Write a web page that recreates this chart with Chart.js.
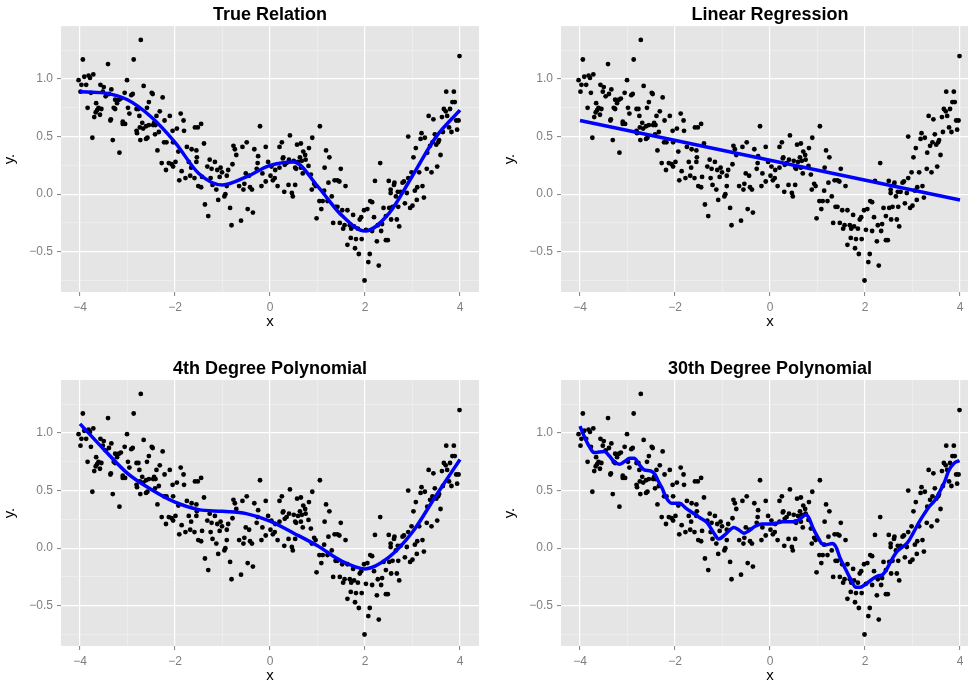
<!DOCTYPE html>
<html>
<head>
<meta charset="utf-8">
<script src="https://cdn.jsdelivr.net/npm/chart.js@4.4.1/dist/chart.umd.min.js"></script>
<style>
  html, body { margin: 0; padding: 0; background: #fff; width: 968px; height: 684px; overflow: hidden; }
  .panel { position: absolute; width: 500px; height: 354px; }
</style>
</head>
<body>
<div class="panel" style="left:0;top:0"><canvas id="p1" width="500" height="354"></canvas></div>
<div class="panel" style="left:500px;top:0"><canvas id="p2" width="500" height="354"></canvas></div>
<div class="panel" style="left:0;top:354px"><canvas id="p3" width="500" height="354"></canvas></div>
<div class="panel" style="left:500px;top:354px"><canvas id="p4" width="500" height="354"></canvas></div>
<script>
// Observed points (x, y), same sample in every panel
const observations = [
  [-2.72,1.34],[-3.94,1.17],[-2.87,1.17],[-3.41,1.13],[-4.03,0.99],[-3.91,1.02],[-3.82,1.03],[-3.79,1.01],
  [-3.72,1.04],[-3.97,0.95],[-3.87,0.95],[-3.99,0.89],[-3.77,0.88],[-3.57,0.95],[-3.50,0.93],[-3.34,0.91],
  [-3.52,0.89],[-3.39,0.87],[-3.01,0.99],[-2.66,0.94],[-3.06,0.88],[-2.92,0.86],[-2.89,0.87],[-2.49,0.88],
  [-2.47,0.87],[-2.26,0.84],[-3.46,0.85],[-3.26,0.82],[-3.18,0.82],[-3.14,0.83],[-3.22,0.79],[-3.29,0.75],
  [-3.26,0.74],[-3.84,0.75],[-3.66,0.79],[-3.61,0.75],[-3.64,0.73],[-3.55,0.74],[-3.67,0.71],[-3.58,0.69],
  [-3.70,0.67],[-2.99,0.75],[-2.81,0.74],[-2.77,0.74],[-2.59,0.75],[-2.55,0.80],[-2.96,0.70],[-2.75,0.68],
  [-2.39,0.68],[-2.32,0.72],[-2.11,0.68],[-1.88,0.70],[-3.36,0.64],[-3.10,0.63],[-3.10,0.61],[-3.05,0.61],
  [-2.69,0.62],[-2.55,0.60],[-2.44,0.62],[-2.46,0.60],[-2.41,0.60],[-2.22,0.64],[-1.82,0.64],[-1.96,0.57],
  [-1.81,0.55],[-1.58,0.58],[-1.52,0.58],[-2.74,0.58],[-2.67,0.57],[-2.80,0.53],[-2.34,0.54],[-3.74,0.49],
  [-3.31,0.47],[-2.73,0.47],[-2.61,0.48],[-3.17,0.36],[-2.37,0.38],[-2.23,0.45],[-2.18,0.45],[-2.04,0.45],
  [-1.93,0.37],[-1.75,0.41],[-1.65,0.39],[-1.55,0.38],[-2.28,0.27],[-2.13,0.27],[-1.99,0.28],[-1.71,0.28],
  [-1.54,0.32],[-1.45,0.61],[-1.39,0.44],[-0.21,0.59],[1.05,0.59],[0.42,0.51],[0.89,0.49],[-0.77,0.42],
  [-0.74,0.39],[-0.71,0.34],[-0.58,0.41],[-0.49,0.45],[-0.33,0.39],[-0.09,0.41],[0.20,0.41],[0.25,0.45],
  [0.57,0.43],[0.65,0.44],[0.82,0.40],[0.70,0.37],[0.74,0.34],[1.18,0.38],[1.25,0.32],[-1.27,0.30],
  [-1.16,0.28],[-0.79,0.26],[-0.26,0.27],[-0.04,0.28],[0.27,0.31],[0.40,0.30],[0.50,0.29],[0.63,0.32],
  [0.75,0.30],[3.99,1.20],[3.71,0.89],[3.87,0.89],[3.84,0.80],[3.89,0.80],[3.66,0.74],[3.70,0.72],
  [3.79,0.74],[3.34,0.68],[3.44,0.65],[3.62,0.67],[3.73,0.68],[3.92,0.64],[3.97,0.64],[3.77,0.58],
  [3.94,0.56],[3.82,0.54],[3.64,0.54],[3.19,0.53],[3.47,0.52],[3.17,0.48],[3.26,0.49],[2.91,0.50],
  [3.56,0.47],[3.54,0.45],[3.42,0.45],[3.37,0.42],[3.50,0.43],[3.07,0.40],[3.31,0.36],[3.59,0.34],
  [3.02,0.32],[-2.07,0.26],[-2.04,0.24],[-2.19,0.21],[-1.86,0.20],[-1.66,0.23],[-1.55,0.28],[-1.91,0.12],
  [-1.78,0.14],[-1.68,0.16],[-1.59,0.14],[-1.51,0.07],[-1.32,0.24],[-1.23,0.22],[-1.11,0.21],[-1.04,0.23],
  [-1.01,0.19],[-0.88,0.21],[-0.91,0.16],[-1.06,0.15],[-1.25,0.14],[-1.43,0.15],[-1.45,0.06],[-1.21,0.08],
  [-1.13,0.04],[-0.91,0.07],[-0.94,0.00],[-0.96,-0.02],[-1.09,-0.05],[-1.37,-0.09],[-1.30,-0.19],[-0.84,-0.12],
  [-0.81,-0.27],[-0.61,-0.23],[-0.47,-0.13],[-0.36,-0.16],[-0.51,0.18],[-0.44,0.16],[-0.28,0.22],[-0.16,0.18],
  [-0.65,0.07],[-0.54,0.09],[-0.56,0.04],[-0.42,0.06],[-0.38,0.04],[-0.18,0.07],[-0.09,0.11],[0.03,0.24],
  [0.11,0.21],[0.01,0.16],[0.10,0.14],[0.06,0.12],[0.16,0.07],[0.30,0.02],[0.39,0.08],[0.53,0.08],
  [0.46,0.01],[0.48,-0.02],[0.20,0.23],[0.55,0.22],[0.69,0.18],[0.86,0.17],[0.93,0.09],[0.96,0.07],
  [0.88,0.04],[1.14,0.03],[1.23,0.10],[1.36,0.12],[1.04,-0.06],[1.11,-0.06],[1.21,-0.06],[1.30,-0.02],
  [1.38,-0.11],[1.08,-0.13],[0.98,-0.21],[1.33,-0.25],[2.32,0.27],[1.49,0.22],[1.59,0.07],[1.42,0.12],
  [1.46,0.11],[1.42,-0.11],[1.52,-0.14],[1.63,-0.14],[1.75,-0.18],[1.47,-0.25],[1.57,-0.27],[1.54,-0.30],
  [1.68,-0.27],[1.77,-0.28],[1.85,-0.30],[1.71,-0.30],[1.89,-0.22],[1.92,-0.20],[1.98,-0.14],[2.05,-0.13],
  [2.11,-0.06],[2.15,-0.07],[2.19,-0.20],[2.02,-0.31],[2.15,-0.32],[2.27,-0.27],[2.36,-0.26],[2.34,-0.32],
  [2.25,-0.41],[2.44,-0.40],[2.48,-0.40],[2.39,-0.12],[2.51,-0.12],[2.44,-0.19],[2.55,-0.22],[2.67,-0.22],
  [2.72,-0.28],[2.58,-0.11],[2.70,-0.11],[2.84,-0.08],[2.95,-0.12],[3.00,-0.10],[2.54,0.04],[2.61,0.08],
  [2.65,-0.02],[2.54,0.01],[2.75,0.02],[2.79,0.10],[2.88,0.01],[2.82,0.11],[2.91,0.14],[2.98,0.19],
  [3.14,0.19],[3.30,0.22],[3.40,0.19],[3.52,0.24],[3.05,0.03],[3.10,0.06],[3.21,0.07],[3.09,-0.05],
  [3.24,-0.03],[2.69,0.02],[1.63,-0.44],[1.70,-0.38],[1.79,-0.47],[1.81,-0.39],[1.93,-0.39],[1.87,-0.52],
  [2.10,-0.52],[2.07,-0.59],[2.29,-0.62],[1.99,-0.75],[-3.35,0.65],[-2.81,0.55],[-2.61,0.59],[-2.58,0.49],
  [-2.42,0.52],[-0.25,0.33],[0.28,0.32],[0.35,0.27],[0.31,0.255],[0.59,0.28],[0.67,0.29],[0.81,0.245],
  [0.65,0.23],[0.53,0.23],[1.15,0.23],[2.21,0.115],[2.50,0.115],[2.62,0.10],[-2.05,0.55]
];

// Fitted curves
const trueX = [-4, -3.5, -3, -2.5, -2, -1.5, -1, -0.5, 0, 0.5, 1, 1.5, 2, 2.5, 3, 3.5, 4];
const trueY = [0.89, 0.88, 0.82, 0.67, 0.45, 0.18, 0.08, 0.15, 0.25, 0.28, 0.07, -0.18, -0.32, -0.17, 0.16, 0.50, 0.73];

const linX = [-4, 4];
const linY = [0.64, -0.05];

const poly4X = [-4, -3.5, -3, -2.5, -2, -1.5, -1, -0.5, 0, 0.5, 1, 1.5, 2, 2.5, 3, 3.5, 4];
const poly4Y = [1.08, 0.86, 0.65, 0.51, 0.40, 0.335, 0.32, 0.30, 0.235, 0.13, 0.02, -0.11, -0.18, -0.08, 0.14, 0.46, 0.77];

const poly30X = [-4, -3.91, -3.80, -3.70, -3.49, -3.38, -3.28, -3.17, -3.07, -2.95, -2.86, -2.76, -2.65, -2.51,
  -2.42, -2.35, -2.27, -2.20, -2.07, -1.90, -1.78, -1.64, -1.46, -1.32, -1.18, -1.08, -0.94, -0.76, -0.66,
  -0.55, -0.45, -0.31, -0.17, 0.06, 0.27, 0.51, 0.62, 0.76, 0.81, 0.90, 1.00, 1.09, 1.18, 1.31, 1.39, 1.47,
  1.60, 1.71, 1.81, 1.90, 2.02, 2.15, 2.27, 2.37, 2.46, 2.55, 2.67, 2.79, 2.90, 3.00, 3.13, 3.25, 3.35,
  3.48, 3.56, 3.67, 3.76, 3.88, 3.99];
const poly30Y = [1.06, 0.97, 0.88, 0.83, 0.84, 0.80, 0.75, 0.73, 0.75, 0.78, 0.78, 0.73, 0.68, 0.67,
  0.64, 0.58, 0.52, 0.45, 0.39, 0.39, 0.35, 0.31, 0.26, 0.22, 0.13, 0.08, 0.12, 0.18, 0.16,
  0.13, 0.15, 0.19, 0.21, 0.21, 0.23, 0.23, 0.25, 0.29, 0.27, 0.18, 0.10, 0.04, 0.03, 0.04, 0.01, -0.08,
  -0.19, -0.28, -0.34, -0.34, -0.31, -0.27, -0.24, -0.23, -0.18, -0.11, -0.03, 0.01, 0.05, 0.12, 0.22, 0.30, 0.36,
  0.42, 0.48, 0.57, 0.67, 0.74, 0.76];

// Axis breaks (major + minor grid)
const xBreaks = [-4, -3, -2, -1, 0, 1, 2, 3, 4];
const yBreaks = [-0.75, -0.5, -0.25, 0, 0.25, 0.5, 0.75, 1.0, 1.25];

Chart.defaults.font.family = '"Liberation Sans", Arial, sans-serif';

const isMajorX = v => Math.abs(v % 2) < 1e-9;
const isMajorY = v => Math.abs((v * 2) % 1) < 1e-9;
const fmt = s => s.replace('-', '\u2212');

// grey panel background like ggplot
const panelBg = {
    id: 'panelBg',
    beforeDraw(chart) {
        const a = chart.chartArea;
        const c = chart.ctx;
        c.save();
        c.fillStyle = '#e5e5e5';
        c.fillRect(a.left, a.top, a.right - a.left, a.bottom - a.top);
        c.restore();
    }
};

function gridOpts(isMajor) {
    return {
        color: ctx => isMajor(ctx.tick.value) ? '#ffffff' : '#f2f2f2',
        lineWidth: ctx => isMajor(ctx.tick.value) ? 1.2 : 0.6,
        tickColor: ctx => isMajor(ctx.tick.value) ? '#7f7f7f' : 'rgba(0,0,0,0)',
        tickLength: 4,
        tickWidth: 1
    };
}

function makePanel(id, title, lineX, lineY) {
    const ctx = document.getElementById(id).getContext('2d');
    new Chart(ctx, {
        type: 'scatter',
        data: {
            datasets: [
                {
                    data: lineX.map((x, i) => ({ x: x, y: lineY[i] })),
                    showLine: true,
                    borderColor: '#0000ff',
                    borderWidth: 3.5,
                    pointRadius: 0,
                    fill: false,
                    cubicInterpolationMode: 'monotone'
                },
                {
                    data: observations.map(p => ({ x: p[0], y: p[1] })),
                    backgroundColor: '#000000',
                    borderWidth: 0,
                    pointRadius: 2.4
                }
            ]
        },
        options: {
            responsive: false,
            animation: false,
            devicePixelRatio: 1,
            events: [],
            layout: { padding: { left: 0, right: 21, top: 0, bottom: 0 } },
            plugins: {
                legend: { display: false },
                tooltip: { enabled: false },
                title: {
                    display: true,
                    text: title,
                    color: '#000',
                    fullSize: false,
                    font: { size: 18, weight: 'bold', lineHeight: 1.2 },
                    padding: { top: 4.5, bottom: 0 }
                }
            },
            scales: {
                x: {
                    type: 'linear',
                    min: -4.4,
                    max: 4.4,
                    afterBuildTicks: s => { s.ticks = xBreaks.map(v => ({ value: v })); },
                    afterFit: s => { s.height = 62; },
                    ticks: {
                        autoSkip: false,
                        maxRotation: 0,
                        padding: 4,
                        color: '#7f7f7f',
                        font: { size: 12 },
                        callback: v => isMajorX(v) ? fmt(String(v)) : ''
                    },
                    grid: gridOpts(isMajorX),
                    border: { display: false },
                    title: {
                        display: true,
                        text: 'x',
                        color: '#000',
                        font: { size: 15, lineHeight: 1.2 },
                        padding: { top: 0, bottom: 23 }
                    }
                },
                y: {
                    type: 'linear',
                    min: -0.85,
                    max: 1.46,
                    afterBuildTicks: s => { s.ticks = yBreaks.map(v => ({ value: v })); },
                    afterFit: s => { s.width = 61; },
                    ticks: {
                        autoSkip: false,
                        padding: 4,
                        color: '#7f7f7f',
                        font: { size: 12 },
                        callback: v => isMajorY(v) ? fmt(v.toFixed(1)) : ''
                    },
                    grid: gridOpts(isMajorY),
                    border: { display: false },
                    title: {
                        display: true,
                        text: 'y.',
                        color: '#000',
                        font: { size: 15, lineHeight: 1.2 },
                        padding: { top: 1, bottom: 0 }
                    }
                }
            }
        },
        plugins: [panelBg]
    });
}

makePanel('p1', 'True Relation', trueX, trueY);
makePanel('p2', 'Linear Regression', linX, linY);
makePanel('p3', '4th Degree Polynomial', poly4X, poly4Y);
makePanel('p4', '30th Degree Polynomial', poly30X, poly30Y);
</script>
</body>
</html>
